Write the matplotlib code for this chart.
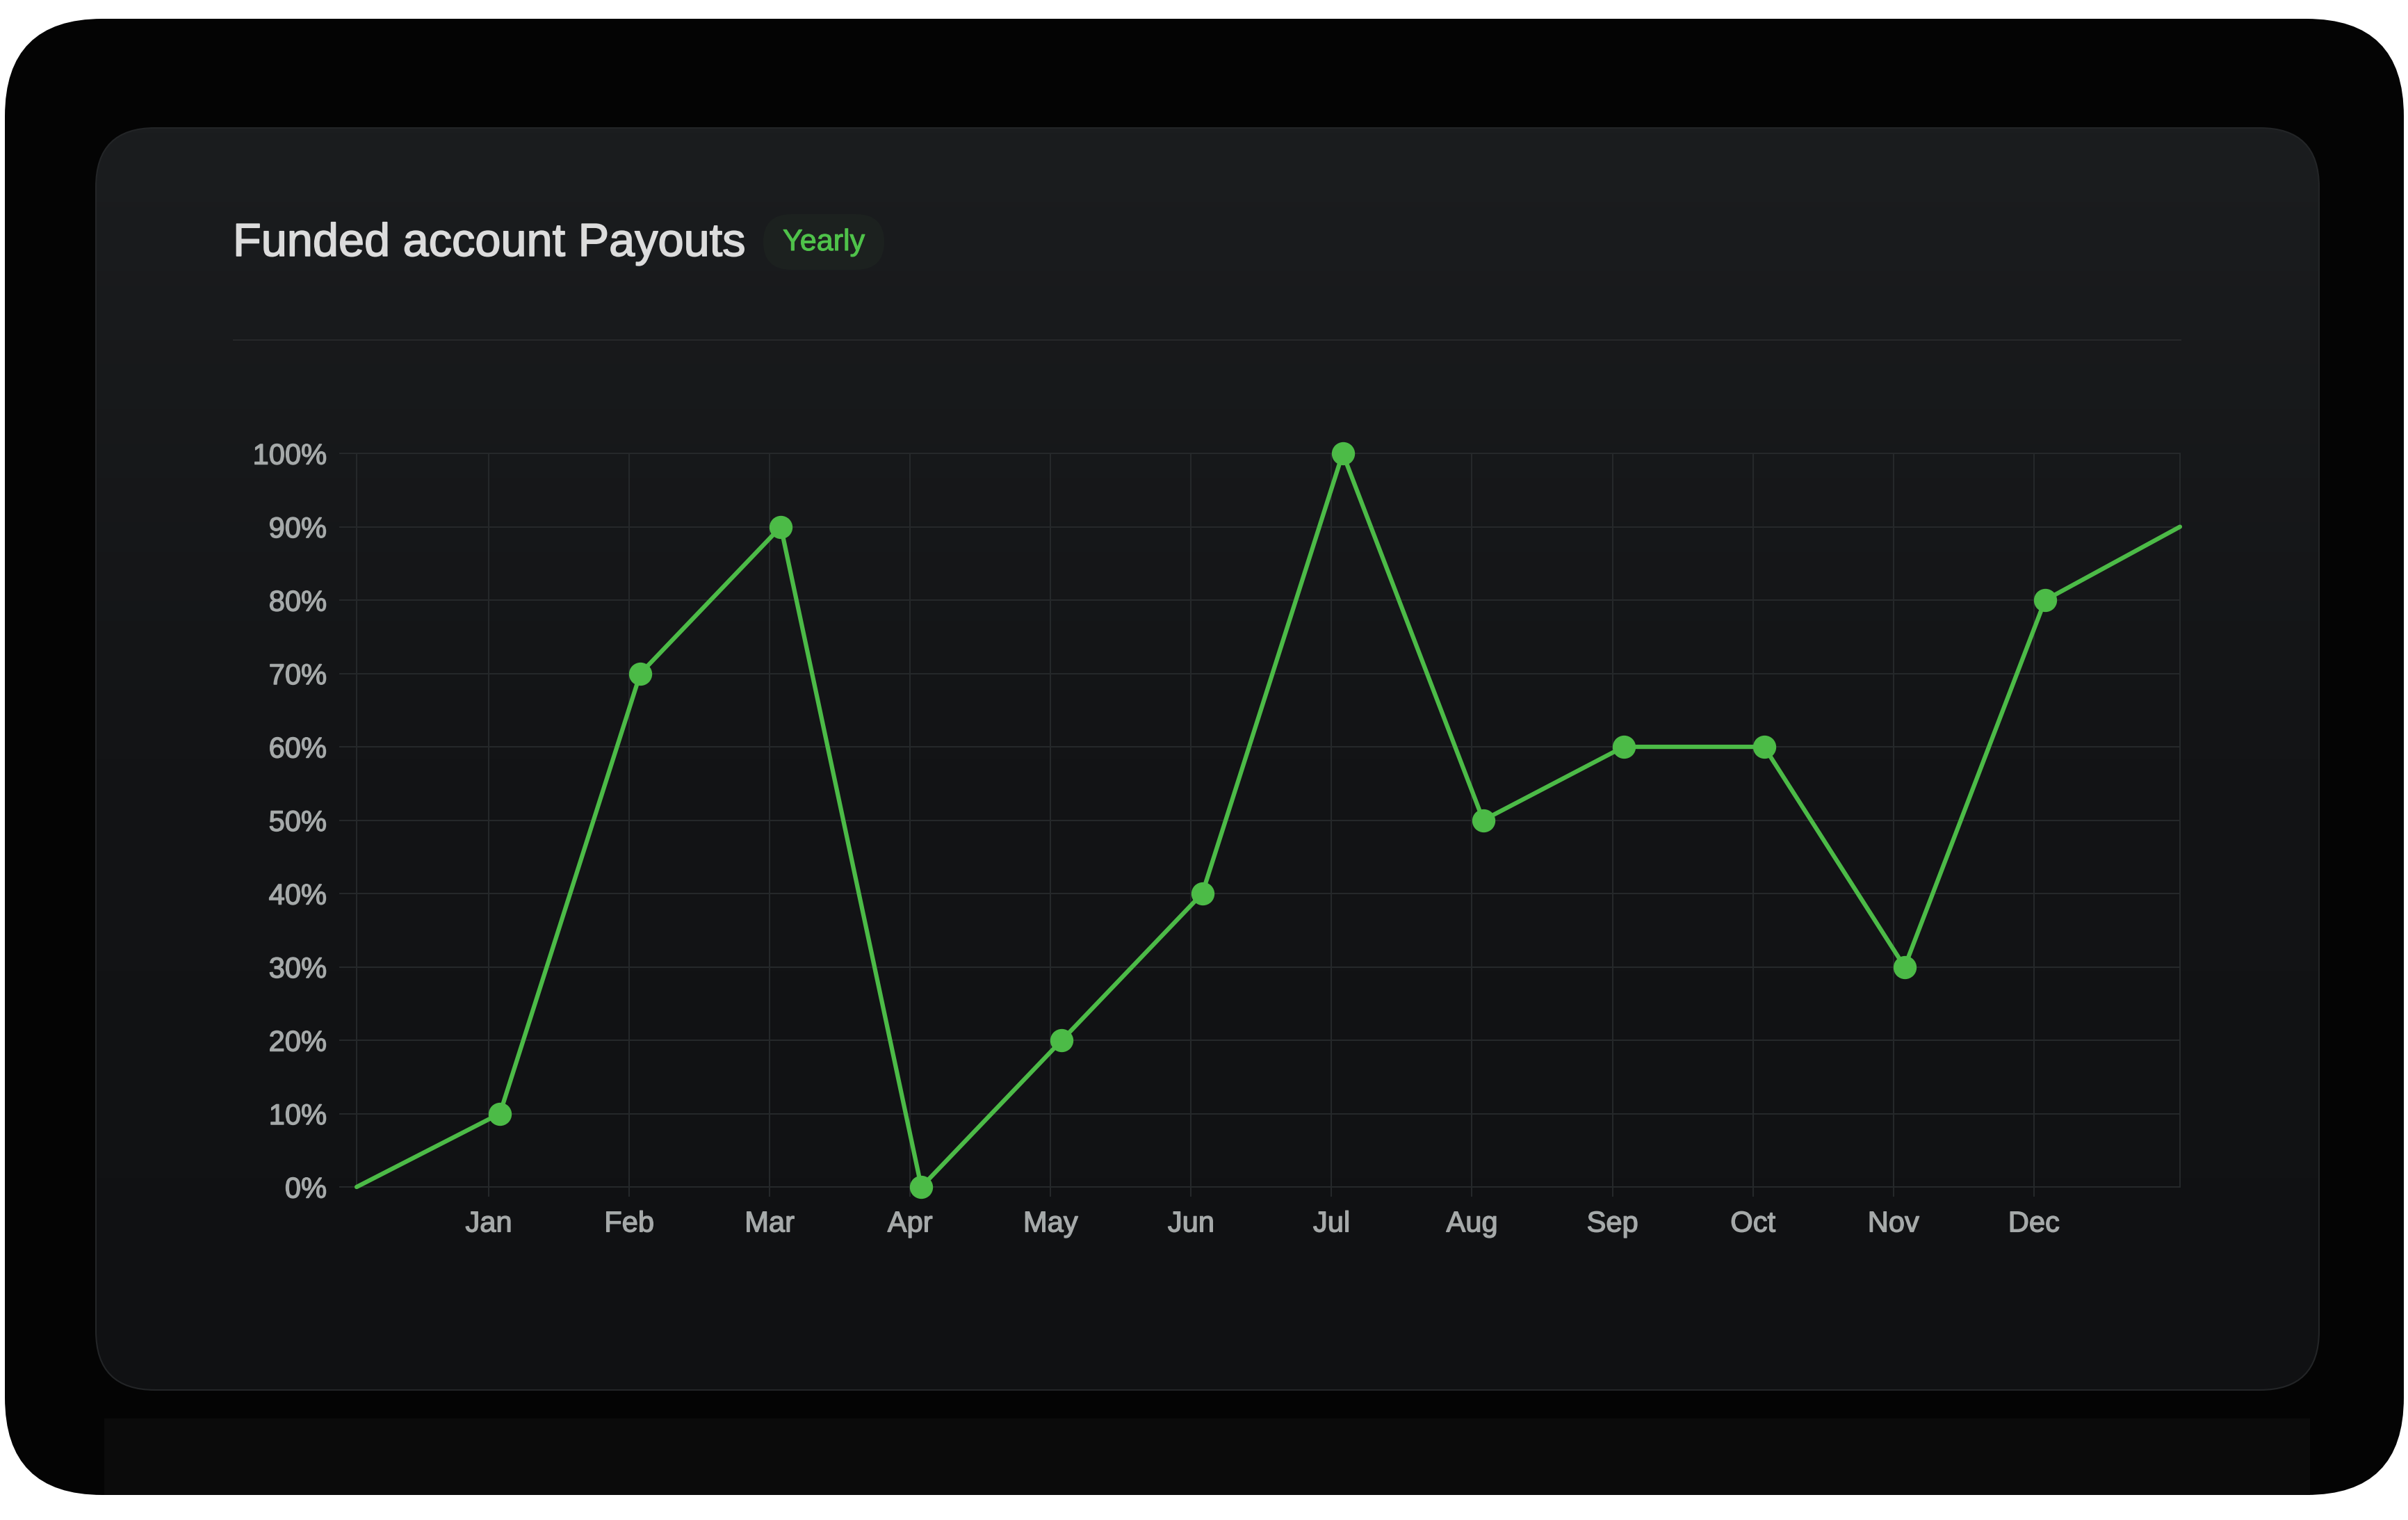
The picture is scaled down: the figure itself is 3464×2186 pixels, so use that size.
import numpy as np
import matplotlib
matplotlib.use("Agg")
import matplotlib.pyplot as plt
import matplotlib.patheffects as pe
from matplotlib.patches import FancyBboxPatch, Rectangle
from matplotlib.colors import LinearSegmentedColormap

# data
months = ["Jan", "Feb", "Mar", "Apr", "May", "Jun",
          "Jul", "Aug", "Sep", "Oct", "Nov", "Dec"]
payouts = [10, 70, 90, 0, 20, 40, 100, 50, 60, 60, 30, 80]
start_value = 0    # line starts at the left edge
end_value = 90     # and runs on to the right edge
y_ticks = [0, 10, 20, 30, 40, 50, 60, 70, 80, 90, 100]

W, H = 3464, 2186
plt.rcParams["font.family"] = ["Liberation Sans", "DejaVu Sans"]

fig = plt.figure(figsize=(W / 100, H / 100), dpi=100, facecolor="white")

# background layer in pixel coords
bg = fig.add_axes([0, 0, 1, 1])
bg.set_xlim(0, W)
bg.set_ylim(H, 0)
bg.axis("off")

outer = FancyBboxPatch((7, 27), 3451, 2123,
                       boxstyle="round,pad=0,rounding_size=140",
                       fc="#040404", ec="none")
bg.add_patch(outer)

# faint reflection under the card
strip = Rectangle((150, 2040), 3173, 110, fc="#0b0b0b", ec="none")
bg.add_patch(strip)
strip.set_clip_path(outer)

panel = FancyBboxPatch((138, 184), 3198, 1815,
                       boxstyle="round,pad=0,rounding_size=85",
                       fc="none", ec="#232527", lw=1.5, zorder=3)
bg.add_patch(panel)
cmap = LinearSegmentedColormap.from_list("panel", ["#1b1d1f", "#131416", "#101113"])
grad = np.linspace(0, 1, 256).reshape(-1, 1)
im = bg.imshow(grad, cmap=cmap, aspect="auto",
               extent=(138, 3336, 1999, 184), zorder=2)
im.set_clip_path(panel)

# title + badge
bg.text(335, 368, "Funded account Payouts", fontsize=48, color="#dcdcdc",
        va="baseline", ha="left", zorder=5,
        path_effects=[pe.withStroke(linewidth=1.2, foreground="#dcdcdc")])
badge = FancyBboxPatch((1098, 308), 174, 80,
                       boxstyle="round,pad=0,rounding_size=40",
                       fc="#1c211f", ec="none", zorder=4)
bg.add_patch(badge)
bg.text(1185, 360, "Yearly", fontsize=31, color="#4fc24a",
        va="baseline", ha="center", zorder=5,
        path_effects=[pe.withStroke(linewidth=0.8, foreground="#4fc24a")])

# separator under the header
bg.plot([336, 3137], [489, 489], color="#26282a", lw=1.5, zorder=4)

# chart
grid_c = "#26292b"
label_c = "#a5a9a9"
ax = fig.add_axes([0.1481, 0.2191, 0.7572, 0.4826])
ax.patch.set_alpha(0)

x_left, x_right = -0.94, 12.04
shift = 0.08
xs = [x_left] + [i + shift for i in range(len(months))] + [x_right]
ys = [start_value] + payouts + [end_value]

ax.plot(xs, ys, color="#4cbb47", lw=4.5, solid_capstyle="round",
        marker="o", markersize=23, markevery=list(range(1, len(months) + 1)),
        zorder=5, clip_on=False)

ax.set_xlim(x_left, x_right)
ax.set_ylim(0, 100)
ax.set_xticks(range(len(months)))
ax.set_xticklabels(months)
ax.set_yticks(y_ticks)
ax.set_yticklabels([f"{v}%" for v in y_ticks])

ax.grid(True, color=grid_c, lw=1.4)
ax.set_axisbelow(True)
for s in ax.spines.values():
    s.set_color(grid_c)
    s.set_linewidth(1.4)

ax.tick_params(axis="y", length=18, width=1.4, color=grid_c, pad=13,
               labelsize=30, labelcolor=label_c)
ax.tick_params(axis="x", length=10, width=1.4, color=grid_c, pad=14,
               labelsize=30, labelcolor=label_c)
for lab in ax.get_xticklabels() + ax.get_yticklabels():
    lab.set_path_effects([pe.withStroke(linewidth=1.0, foreground=label_c)])

fig.savefig("out.png", dpi=100, facecolor="white")
